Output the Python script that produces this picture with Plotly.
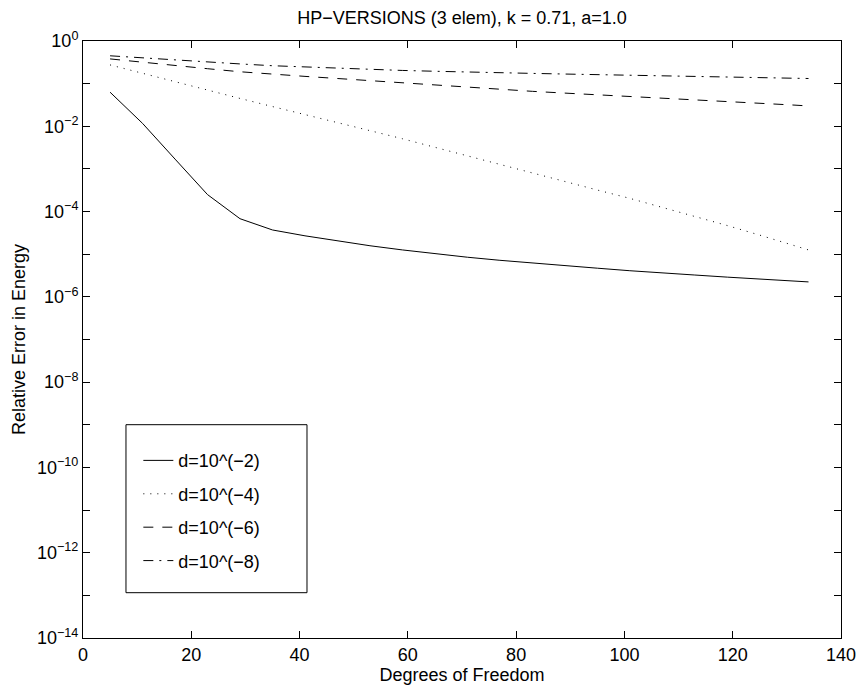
import plotly.graph_objects as go

dof = [5, 11, 17, 23, 29, 35, 41, 47, 53, 59, 65, 71, 77, 83, 89, 95, 101, 107, 113, 119, 125, 131, 134]

err_d2 = [6.3e-2, 1.17e-2, 1.7e-3, 2.5e-4, 6.8e-5, 3.7e-5, 2.7e-5, 2.04e-5, 1.58e-5, 1.26e-5,
          1.02e-5, 8.5e-6, 7.2e-6, 6.2e-6, 5.25e-6, 4.7e-6, 4.1e-6, 3.6e-6, 3.25e-6, 2.9e-6,
          2.6e-6, 2.35e-6, 2.24e-6]
err_d4 = [2.75e-1, 1.74e-1, 1.1e-1, 6.9e-2, 4.5e-2, 2.9e-2, 1.9e-2, 1.23e-2, 7.9e-3, 5.1e-3,
          3.2e-3, 2.04e-3, 1.29e-3, 8.1e-4, 5.1e-4, 3.2e-4, 2.04e-4, 1.26e-4, 7.8e-5, 4.7e-5,
          2.8e-5, 1.66e-5, 1.26e-5]
err_d6 = [3.8e-1, 3.16e-1, 2.63e-1, 2.24e-1, 1.9e-1, 1.66e-1, 1.48e-1, 1.32e-1, 1.17e-1, 1.05e-1,
          9.3e-2, 8.3e-2, 7.4e-2, 6.6e-2, 6.0e-2, 5.5e-2, 5.0e-2, 4.6e-2, 4.2e-2, 3.8e-2,
          3.5e-2, 3.16e-2, 3.0e-2]
err_d8 = [4.5e-1, 4.0e-1, 3.55e-1, 3.16e-1, 2.9e-1, 2.63e-1, 2.45e-1, 2.29e-1, 2.16e-1, 2.04e-1,
          1.95e-1, 1.86e-1, 1.8e-1, 1.74e-1, 1.68e-1, 1.62e-1, 1.58e-1, 1.53e-1, 1.48e-1, 1.43e-1,
          1.38e-1, 1.35e-1, 1.32e-1]

series_names = ["d=10^(\u22122)", "d=10^(\u22124)", "d=10^(\u22126)", "d=10^(\u22128)"]
series_vals = [err_d2, err_d4, err_d6, err_d8]
dashes = ["solid", "1px,6px", "10px,9px", "10px,6px,2px,6px"]

x_ticks = [0, 20, 40, 60, 80, 100, 120, 140]
y_major_exps = [0, -2, -4, -6, -8, -10, -12, -14]
y_minor_exps = [-1, -3, -5, -7, -9, -11, -13]

font = "Liberation Sans, Arial, sans-serif"
FS = 18

fig = go.Figure()
for i, (name, vals, dash) in enumerate(zip(series_names, series_vals, dashes)):
    fig.add_trace(go.Scatter(
        x=dof, y=vals, mode="lines", name=name, legendgroup=str(i),
        line=dict(color="black", width=1, dash=dash),
    ))

yvals = [10.0 ** e for e in y_major_exps]
ytext = ["10<sup>\u2212%d</sup>" % (-e) if e < 0 else "10<sup>0</sup>" for e in y_major_exps]
yminor = [10.0 ** e for e in y_minor_exps]

fig.update_layout(
    width=862, height=692,
    paper_bgcolor="white", plot_bgcolor="white",
    margin=dict(l=83, r=21, t=41, b=54),
    font=dict(family=font, size=FS, color="black"),
    title=dict(text="HP\u2212VERSIONS (3 elem), k = 0.71, a=1.0", x=462 / 862, xanchor="center",
               xref="container", y=1 - 18 / 692, yanchor="middle", yref="container",
               font=dict(size=18)),
    showlegend=True,
    legend=dict(x=0.073, y=0.328, xanchor="left", yanchor="top", bgcolor="rgba(0,0,0,0)",
                borderwidth=0, tracegroupgap=7, font=dict(size=FS)),
    shapes=[dict(type="rect", xref="paper", yref="paper", x0=0.0567, x1=0.2955, y0=0.0759, y1=0.3573,
                 line=dict(color="black", width=1), fillcolor="rgba(0,0,0,0)")],
)
fig.update_xaxes(range=[0, 140], tickvals=x_ticks, ticks="inside", ticklen=7, tickcolor="black",
                 tickfont=dict(size=FS), automargin=False, ticklabeloverflow="allow",
                 showline=True, linecolor="black", linewidth=1, mirror="ticks", showgrid=False,
                 zeroline=False, title=dict(text="Degrees of Freedom", standoff=2, font=dict(size=FS)))
fig.update_yaxes(type="log", range=[-14, 0], tickvals=yvals, ticktext=ytext, ticks="inside", ticklen=7,
                 minor=dict(tickvals=yminor, ticks="inside", ticklen=7, tickcolor="black", showgrid=False),
                 tickfont=dict(size=FS), automargin=False,
                 tickcolor="black", showline=True, linecolor="black", linewidth=1, mirror="ticks",
                 showgrid=False, zeroline=False,
                 title=dict(text="Relative Error in Energy", standoff=6, font=dict(size=FS)))

fig.write_html("out.html", config={"displayModeBar": False},
               post_script="document.body.style.margin='0';")
